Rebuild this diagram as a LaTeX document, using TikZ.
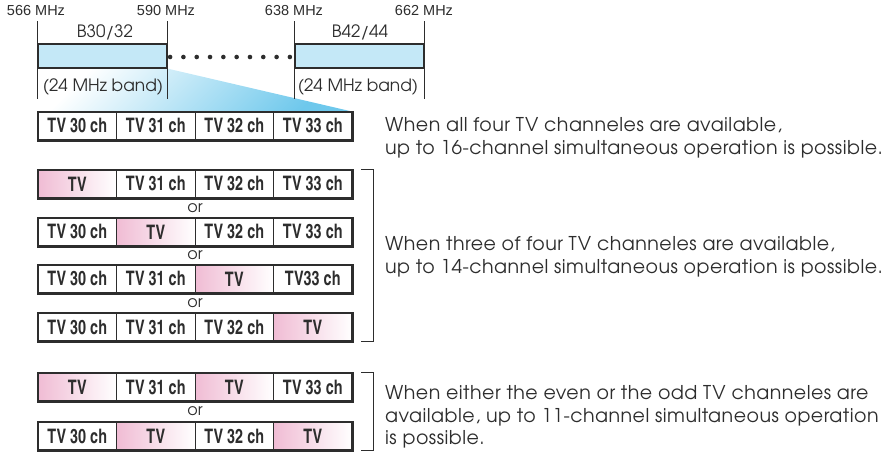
\documentclass[tikz,border=0pt]{standalone}
\usepackage{fontspec}
\setmainfont{texgyreadventor}[Extension=.otf,UprightFont=*-regular,BoldFont=*-bold]
\newfontfamily\chfont{texgyreheroscn}[Extension=.otf,UprightFont=*-bold,FakeStretch=0.88]
\newfontfamily\mhzfont{Liberation Sans}
\usetikzlibrary{calc,backgrounds}
\definecolor{bandblue}{RGB}{196,232,247}
\definecolor{wedgeblue}{RGB}{110,200,236}
\definecolor{tvpink}{RGB}{240,188,212}
\definecolor{linegray}{RGB}{45,45,45}
\tikzstyle{every node}=[inner sep=0pt,text=linegray]
\tikzstyle{band}=[draw=linegray,line width=1.2pt,fill=bandblue,minimum width=129pt,minimum height=24pt]
\tikzstyle{tick}=[draw=linegray,line width=0.6pt]
\tikzstyle{mhz}=[font=\mhzfont\fontsize{14.5}{14.5}\selectfont]
\tikzstyle{bandtext}=[font=\fontsize{17}{17}\selectfont]
\tikzstyle{chcell}=[draw=linegray,line width=0.8pt,minimum width=78.5pt,minimum height=28pt,font=\chfont\fontsize{20}{20}\selectfont]
\tikzstyle{freecell}=[chcell,left color=tvpink,right color=white]
\tikzstyle{rowframe}=[draw=linegray,line width=2.2pt]
\tikzstyle{ortext}=[font=\fontsize{16}{16}\selectfont]
\tikzstyle{note}=[anchor=west,align=left,font=\fontsize{19}{22.5}\selectfont\addfontfeature{LetterSpace=2.5}]

\begin{document}
\begin{tikzpicture}[x=1pt,y=-1pt]
  \useasboundingbox (0,0) rectangle (888,451);
  % bands
  \node[band] (b30) at (102.5,56) {};
  \node[band] (b42) at (359.5,56) {};
  \node[bandtext] (b30name) at (105,32) {B30/32};
  \node[bandtext] (b42name) at (360,32) {B42/44};
  \node[bandtext] (b30bw) at (103,87) {(24 MHz band)};
  \node[bandtext] (b42bw) at (358,87) {(24 MHz band)};
  \foreach \x/\f in {36/566,166/590,294/638,424/662}
    \node[mhz] (f\f) at (\x,11) {\f\ MHz};
  \foreach \b in {b30,b42} {
    \draw[tick] (\b.north west) -- ++(0,-22);
    \draw[tick] (\b.north east) -- ++(0,-22);
    \draw[tick] (\b.south west) -- ++(0,30);
    \draw[tick] (\b.south east) -- ++(0,30);
  }
  % dots
  \coordinate (dotA) at ($(b30.east)+(2.5,1)$);
  \coordinate (dotB) at ($(b42.west)+(-4.5,1)$);
  \foreach \k in {0,...,9}
    \fill[linegray] ($(dotA)!\k/9!(dotB)$) circle (2.3pt);

  % channel rows
  \foreach \y/\cells [count=\j] in {
      126/{chcell/TV 30 ch,chcell/TV 31 ch,chcell/TV 32 ch,chcell/TV 33 ch},
      184/{freecell/TV,chcell/TV 31 ch,chcell/TV 32 ch,chcell/TV 33 ch},
      232/{chcell/TV 30 ch,freecell/TV,chcell/TV 32 ch,chcell/TV 33 ch},
      279/{chcell/TV 30 ch,chcell/TV 31 ch,freecell/TV,chcell/TV33 ch},
      327/{chcell/TV 30 ch,chcell/TV 31 ch,chcell/TV 32 ch,freecell/TV},
      387/{freecell/TV,chcell/TV 31 ch,freecell/TV,chcell/TV 33 ch},
      436/{chcell/TV 30 ch,freecell/TV,chcell/TV 32 ch,freecell/TV}} {
    \foreach \sty/\txt [count=\i] in \cells
      \node[\sty] (r\j c\i) at ({38+78.5*(\i-0.5)},\y) {\txt};
    \draw[rowframe] (r\j c1.north west) rectangle (r\j c4.south east);
  }
  \foreach \a/\b in {2/3,3/4,4/5,6/7}
    \node[ortext] (or\a) at ($(r\a c2.south east)!0.5!(r\b c3.north west)$) {or};

  % zoom wedge
  \begin{pgfonlayer}{background}
    \shade[top color=white,bottom color=wedgeblue,shading angle=45]
      (b30.south west) -- (b30.south east) -- (r1c4.north east) -- (r1c1.north west) -- cycle;
  \end{pgfonlayer}

  % brackets
  \draw[tick] ($(r2c4.north east)+(9,0)$) -- ++(12,0) |- ($(r5c4.south east)+(9,0)$);
  \draw[tick] ($(r6c4.north east)+(9,0)$) -- ++(12,0) |- ($(r7c4.south east)+(9,0)$);

  % notes
  \node[note] (note1) at (385,138) {When all four TV channeles are available,\\up to 16-channel simultaneous operation is possible.};
  \node[note] (note2) at (385,257) {When three of four TV channeles are available,\\up to 14-channel simultaneous operation is possible.};
  \node[note] (note3) at (385,417) {When either the even or the odd TV channeles are\\available, up to 11-channel simultaneous operation\\is possible.};
\end{tikzpicture}
\end{document}
